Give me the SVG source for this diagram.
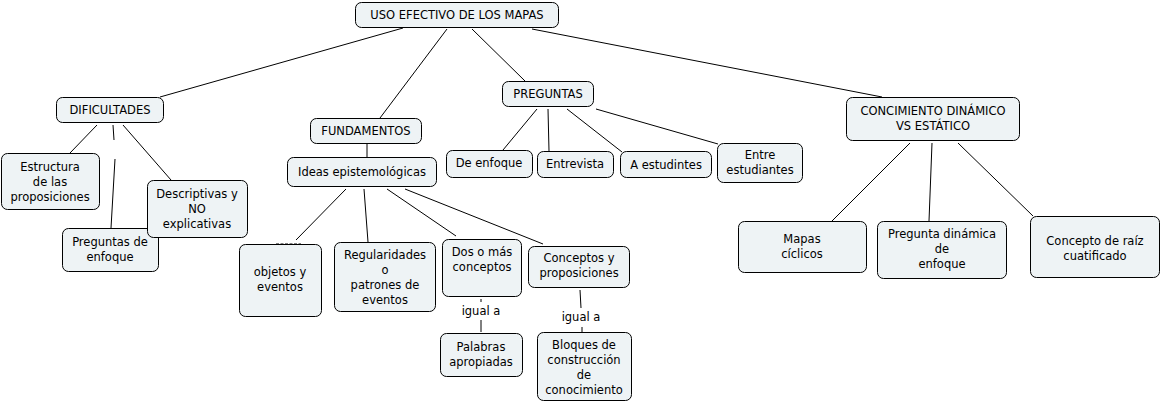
<svg xmlns="http://www.w3.org/2000/svg" width="1162" height="403" viewBox="0 0 1162 403">
<style>
.n rect{fill:#eef3f5;stroke:#000;stroke-width:1}
text{font-family:"DejaVu Sans",Verdana,sans-serif;font-size:11.5px;fill:#000;text-anchor:middle}
.c line{stroke:#000;stroke-width:1}
</style>
<rect width="1162" height="403" fill="#fff"/>
<g class="c">
<line x1="403" y1="28" x2="160" y2="97"/>
<line x1="447" y1="29" x2="380" y2="118"/>
<line x1="472" y1="29" x2="525" y2="81"/>
<line x1="532" y1="29" x2="882" y2="97"/>
<line x1="97" y1="125" x2="70" y2="153"/>
<line x1="113" y1="125" x2="114" y2="140"/>
<line x1="115" y1="159" x2="111" y2="228"/>
<line x1="123" y1="125" x2="171" y2="180"/>
<line x1="367" y1="143" x2="367" y2="157"/>
<line x1="346" y1="189" x2="296" y2="240"/>
<line x1="276" y1="244" x2="301" y2="244" stroke-dasharray="3,1.5"/>
<line x1="364" y1="189" x2="368" y2="242"/>
<line x1="387" y1="189" x2="456" y2="236"/>
<line x1="405" y1="189" x2="543" y2="244"/>
<line x1="481" y1="299" x2="481" y2="302"/>
<line x1="481" y1="320" x2="481" y2="332"/>
<line x1="580" y1="290" x2="581" y2="308"/>
<line x1="582" y1="327" x2="582" y2="332"/>
<line x1="537" y1="109" x2="503" y2="150"/>
<line x1="548" y1="109" x2="549" y2="151"/>
<line x1="567" y1="109" x2="622" y2="152"/>
<line x1="596" y1="109" x2="718" y2="144"/>
<line x1="910" y1="143" x2="832" y2="221"/>
<line x1="932" y1="143" x2="929" y2="221"/>
<line x1="958" y1="143" x2="1033" y2="216"/>
<text x="481" y="315">igual a</text>
<text x="581" y="321">igual a</text>
</g>
<g class="n" id="root"><rect x="355.5" y="2.5" width="203" height="25" rx="6"/><text x="457" y="19">USO EFECTIVO DE LOS MAPAS</text></g>
<g class="n" id="dificultades"><rect x="56.5" y="97.5" width="107" height="25" rx="6"/><text x="110" y="114">DIFICULTADES</text></g>
<g class="n" id="fundamentos"><rect x="310.5" y="118.5" width="111" height="25" rx="6"/><text x="366" y="135">FUNDAMENTOS</text></g>
<g class="n" id="preguntas"><rect x="502.5" y="81.5" width="91" height="25" rx="6"/><text x="548" y="98">PREGUNTAS</text></g>
<g class="n" id="concimiento"><rect x="846.5" y="97.5" width="173" height="43" rx="6"/><text x="933" y="115">CONCIMIENTO DINÁMICO</text><text x="933" y="130">VS ESTÁTICO</text></g>
<g class="n" id="estructura"><rect x="1.5" y="153.5" width="98" height="56" rx="6"/><text x="50" y="171">Estructura</text><text x="50" y="186">de las</text><text x="50" y="201">proposiciones</text></g>
<g class="n" id="preguntas-enfoque"><rect x="62.5" y="228.5" width="96" height="43" rx="6"/><text x="110" y="246">Preguntas de</text><text x="110" y="261">enfoque</text></g>
<g class="n" id="descriptivas"><rect x="147.5" y="180.5" width="100" height="57" rx="6"/><text x="197" y="198">Descriptivas y</text><text x="197" y="213">NO</text><text x="197" y="228">explicativas</text></g>
<g class="n" id="ideas"><rect x="287.5" y="157.5" width="149" height="29" rx="6"/><text x="362" y="176">Ideas epistemológicas</text></g>
<g class="n" id="de-enfoque"><rect x="446.5" y="150.5" width="86" height="27" rx="6"/><text x="489" y="167">De enfoque</text></g>
<g class="n" id="entrevista"><rect x="537.5" y="151.5" width="76" height="26" rx="6"/><text x="575" y="168">Entrevista</text></g>
<g class="n" id="a-estudintes"><rect x="620.5" y="151.5" width="91" height="26" rx="6"/><text x="666" y="169">A estudintes</text></g>
<g class="n" id="entre-estudiantes"><rect x="717.5" y="143.5" width="85" height="39" rx="6"/><text x="760" y="159">Entre</text><text x="760" y="174">estudiantes</text></g>
<g class="n" id="objetos"><rect x="239.5" y="244.5" width="82" height="72" rx="6"/><text x="280" y="276">objetos y</text><text x="280" y="291">eventos</text></g>
<g class="n" id="regularidades"><rect x="334.5" y="242.5" width="101" height="69" rx="6"/><text x="385" y="259">Regularidades</text><text x="385" y="274">o</text><text x="385" y="289">patrones de</text><text x="385" y="304">eventos</text></g>
<g class="n" id="dos-o-mas"><rect x="442.5" y="239.5" width="79" height="57" rx="6"/><text x="482" y="256">Dos o más</text><text x="482" y="271">conceptos</text></g>
<g class="n" id="conceptos-prop"><rect x="528.5" y="246.5" width="101" height="41" rx="6"/><text x="579" y="262">Conceptos y</text><text x="579" y="277">proposiciones</text></g>
<g class="n" id="palabras"><rect x="440.5" y="333.5" width="82" height="43" rx="6"/><text x="481" y="351">Palabras</text><text x="481" y="366">apropiadas</text></g>
<g class="n" id="bloques"><rect x="537.5" y="332.5" width="94" height="68" rx="6"/><text x="584" y="349">Bloques de</text><text x="584" y="364">construcción</text><text x="584" y="379">de</text><text x="584" y="394">conocimiento</text></g>
<g class="n" id="mapas-ciclicos"><rect x="738.5" y="221.5" width="128" height="51" rx="6"/><text x="802" y="243">Mapas</text><text x="802" y="258">cíclicos</text></g>
<g class="n" id="pregunta-dinamica"><rect x="877.5" y="221.5" width="129" height="57" rx="6"/><text x="942" y="238">Pregunta dinámica</text><text x="942" y="253">de</text><text x="942" y="268">enfoque</text></g>
<g class="n" id="concepto-raiz"><rect x="1030.5" y="216.5" width="129" height="61" rx="6"/><text x="1095" y="245">Concepto de raíz</text><text x="1095" y="260">cuatificado</text></g>
</svg>
